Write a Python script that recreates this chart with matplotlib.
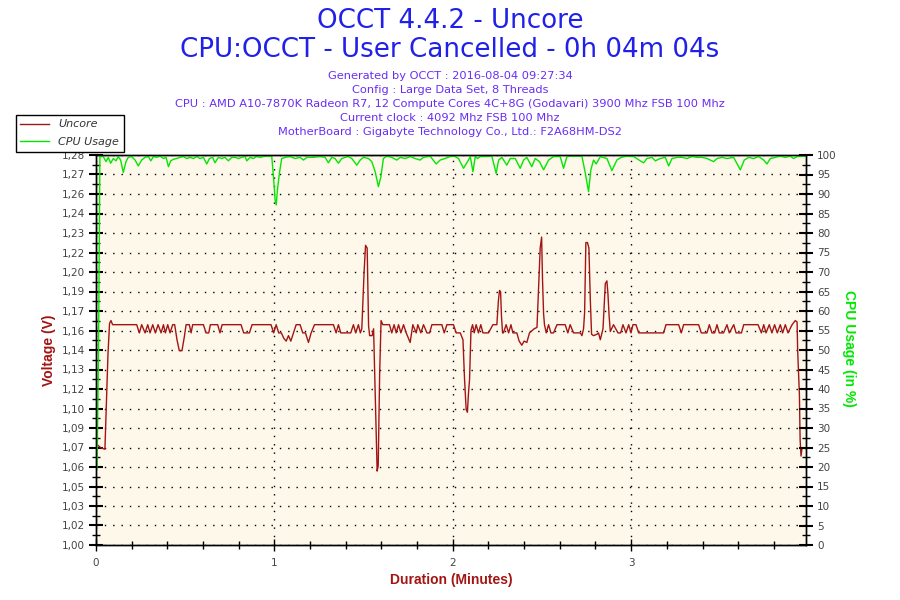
import matplotlib
matplotlib.use('Agg')
import matplotlib.pyplot as plt
import numpy as np

# Uncore voltage (V) - polyline vertices, time in minutes
uncore_t = [0.000, 0.028, 0.050, 0.059, 0.067, 0.076, 0.084, 0.093, 0.228, 0.243,
            0.256, 0.275, 0.290, 0.303, 0.318, 0.333, 0.348, 0.365, 0.378, 0.389,
            0.402, 0.415, 0.430, 0.441, 0.454, 0.467, 0.482, 0.495, 0.505, 0.523,
            0.533, 0.542, 0.602, 0.617, 0.632, 0.641, 0.682, 0.695, 0.707, 0.813,
            0.828, 0.860, 0.875, 0.981, 0.996, 1.010, 1.024, 1.039, 1.053, 1.066,
            1.079, 1.092, 1.107, 1.122, 1.144, 1.159, 1.174, 1.191, 1.206, 1.225,
            1.331, 1.346, 1.359, 1.372, 1.428, 1.443, 1.456, 1.471, 1.482, 1.490,
            1.503, 1.511, 1.520, 1.528, 1.534, 1.548, 1.556, 1.565, 1.576, 1.582,
            1.590, 1.598, 1.608, 1.645, 1.658, 1.671, 1.683, 1.696, 1.709, 1.724,
            1.739, 1.761, 1.776, 1.795, 1.804, 1.821, 1.836, 1.855, 1.870, 1.883,
            1.939, 1.952, 1.967, 2.004, 2.019, 2.042, 2.057, 2.066, 2.075, 2.082,
            2.088, 2.094, 2.102, 2.111, 2.120, 2.131, 2.144, 2.157, 2.169, 2.200,
            2.225, 2.247, 2.256, 2.262, 2.268, 2.273, 2.279, 2.284, 2.299, 2.313,
            2.326, 2.337, 2.359, 2.372, 2.387, 2.400, 2.415, 2.430, 2.456, 2.472,
            2.483, 2.490, 2.498, 2.503, 2.509, 2.514, 2.524, 2.537, 2.550, 2.565,
            2.584, 2.630, 2.645, 2.658, 2.677, 2.715, 2.724, 2.733, 2.739, 2.746,
            2.755, 2.763, 2.771, 2.778, 2.789, 2.808, 2.817, 2.827, 2.842, 2.855,
            2.864, 2.870, 2.876, 2.883, 2.901, 2.926, 2.941, 2.954, 2.971, 2.986,
            2.999, 3.010, 3.027, 3.042, 3.182, 3.195, 3.266, 3.281, 3.294, 3.378,
            3.393, 3.425, 3.438, 3.453, 3.468, 3.481, 3.494, 3.518, 3.537, 3.550,
            3.575, 3.588, 3.618, 3.631, 3.711, 3.730, 3.743, 3.756, 3.774, 3.789,
            3.804, 3.819, 3.836, 3.849, 3.864, 3.879, 3.902, 3.920, 3.930, 3.933,
            3.943, 3.947, 3.952, 3.958, 3.980]
uncore_v = [1.074, 1.071, 1.070, 1.107, 1.139, 1.162, 1.164, 1.161, 1.161, 1.155,
            1.161, 1.155, 1.161, 1.155, 1.161, 1.155, 1.161, 1.155, 1.161, 1.155,
            1.161, 1.155, 1.161, 1.161, 1.150, 1.142, 1.142, 1.152, 1.161, 1.161,
            1.155, 1.161, 1.161, 1.155, 1.155, 1.161, 1.161, 1.155, 1.161, 1.161,
            1.155, 1.155, 1.161, 1.161, 1.155, 1.161, 1.155, 1.155, 1.151, 1.149,
            1.153, 1.149, 1.155, 1.161, 1.161, 1.155, 1.155, 1.148, 1.155, 1.161,
            1.161, 1.155, 1.161, 1.155, 1.155, 1.161, 1.155, 1.161, 1.155, 1.158,
            1.200, 1.219, 1.217, 1.160, 1.153, 1.153, 1.158, 1.110, 1.054, 1.058,
            1.125, 1.164, 1.161, 1.161, 1.155, 1.161, 1.155, 1.161, 1.155, 1.161,
            1.155, 1.148, 1.161, 1.155, 1.161, 1.155, 1.161, 1.155, 1.155, 1.161,
            1.161, 1.155, 1.161, 1.161, 1.155, 1.155, 1.150, 1.121, 1.099, 1.097,
            1.111, 1.121, 1.157, 1.161, 1.155, 1.161, 1.155, 1.161, 1.155, 1.155,
            1.161, 1.161, 1.179, 1.186, 1.185, 1.167, 1.155, 1.155, 1.161, 1.155,
            1.161, 1.155, 1.155, 1.149, 1.146, 1.149, 1.148, 1.155, 1.158, 1.159,
            1.194, 1.217, 1.225, 1.194, 1.169, 1.161, 1.155, 1.161, 1.155, 1.155,
            1.161, 1.161, 1.155, 1.161, 1.155, 1.155, 1.153, 1.158, 1.170, 1.221,
            1.221, 1.217, 1.179, 1.154, 1.153, 1.154, 1.155, 1.150, 1.158, 1.191,
            1.193, 1.183, 1.168, 1.156, 1.161, 1.155, 1.155, 1.161, 1.155, 1.161,
            1.155, 1.161, 1.161, 1.155, 1.155, 1.161, 1.161, 1.155, 1.161, 1.161,
            1.155, 1.155, 1.161, 1.155, 1.155, 1.161, 1.155, 1.155, 1.161, 1.155,
            1.161, 1.155, 1.155, 1.161, 1.161, 1.155, 1.161, 1.155, 1.161, 1.155,
            1.161, 1.155, 1.161, 1.155, 1.161, 1.155, 1.161, 1.164, 1.163, 1.143,
            1.110, 1.077, 1.065, 1.071, 1.071]

# CPU usage (%) vertices
cpu_t = [0.006, 0.014, 0.020, 0.022, 0.041, 0.056, 0.069, 0.082, 0.097, 0.112,
         0.125, 0.138, 0.153, 0.168, 0.181, 0.200, 0.219, 0.237, 0.256, 0.275,
         0.294, 0.307, 0.322, 0.340, 0.359, 0.378, 0.393, 0.406, 0.419, 0.434,
         0.452, 0.471, 0.490, 0.509, 0.527, 0.546, 0.565, 0.583, 0.602, 0.621,
         0.636, 0.654, 0.667, 0.686, 0.705, 0.723, 0.742, 0.761, 0.780, 0.798,
         0.817, 0.836, 0.845, 0.864, 0.882, 0.901, 0.920, 0.938, 0.957, 0.985,
         0.995, 1.004, 1.010, 1.017, 1.028, 1.041, 1.060, 1.088, 1.116, 1.144,
         1.163, 1.182, 1.219, 1.256, 1.284, 1.303, 1.322, 1.340, 1.359, 1.378,
         1.397, 1.415, 1.434, 1.462, 1.481, 1.499, 1.527, 1.546, 1.565, 1.583,
         1.597, 1.611, 1.630, 1.658, 1.686, 1.705, 1.733, 1.761, 1.789, 1.817,
         1.836, 1.873, 1.907, 1.929, 1.957, 1.985, 2.008, 2.032, 2.060, 2.083,
         2.098, 2.113, 2.126, 2.139, 2.154, 2.191, 2.219, 2.243, 2.257, 2.275,
         2.303, 2.322, 2.350, 2.378, 2.397, 2.415, 2.443, 2.462, 2.486, 2.509,
         2.537, 2.565, 2.602, 2.621, 2.640, 2.668, 2.724, 2.743, 2.761, 2.774,
         2.789, 2.804, 2.827, 2.864, 2.892, 2.920, 2.943, 2.976, 3.014, 3.051,
         3.070, 3.088, 3.117, 3.135, 3.163, 3.191, 3.210, 3.229, 3.257, 3.285,
         3.313, 3.341, 3.369, 3.397, 3.425, 3.462, 3.481, 3.509, 3.537, 3.574,
         3.612, 3.634, 3.659, 3.687, 3.715, 3.743, 3.761, 3.780, 3.808, 3.836,
         3.864, 3.892, 3.911, 3.930, 3.976]
cpu_p = [20.0, 50.0, 85.0, 99.6, 99.6, 98.3, 99.4, 97.9, 99.1, 98.5,
         99.6, 98.7, 95.5, 98.3, 99.4, 99.6, 98.7, 97.2, 98.7, 99.4,
         99.6, 98.5, 99.6, 99.4, 99.7, 99.1, 99.4, 97.0, 98.5, 98.9,
         99.1, 99.4, 99.6, 99.1, 99.4, 99.1, 99.6, 99.1, 99.4, 97.7,
         99.1, 99.4, 98.0, 99.4, 99.1, 99.4, 98.5, 99.4, 99.4, 99.1,
         99.4, 99.6, 98.5, 99.4, 99.1, 99.6, 99.4, 99.6, 99.7, 99.7,
         94.4, 88.5, 87.2, 91.0, 95.3, 99.1, 99.4, 99.6, 99.1, 99.4,
         98.7, 99.4, 99.4, 99.6, 99.4, 98.0, 99.4, 99.1, 97.9, 99.1,
         99.4, 99.6, 99.1, 97.4, 98.7, 99.4, 99.1, 98.3, 95.7, 91.9,
         94.4, 99.1, 99.7, 99.4, 98.7, 99.4, 99.1, 99.6, 99.1, 98.7,
         99.4, 99.7, 97.7, 98.7, 99.1, 99.6, 99.7, 99.1, 96.6, 98.3,
         99.6, 95.7, 99.6, 99.1, 99.6, 99.6, 99.7, 95.3, 98.7, 99.4,
         97.4, 99.1, 99.1, 96.6, 98.7, 99.4, 97.0, 99.1, 98.3, 96.2,
         98.7, 99.6, 99.6, 96.6, 99.6, 99.7, 99.7, 95.3, 90.6, 96.2,
         98.7, 97.7, 99.6, 99.1, 96.0, 98.7, 99.4, 99.7, 99.6, 98.5,
         98.0, 99.1, 99.4, 98.5, 99.1, 99.4, 97.2, 99.1, 99.4, 99.4,
         99.1, 99.6, 99.4, 99.4, 99.1, 98.3, 99.1, 99.4, 99.1, 99.4,
         96.2, 98.7, 99.4, 99.1, 99.6, 98.7, 97.7, 99.1, 99.4, 99.7,
         99.4, 99.7, 99.1, 99.6, 99.7]

volt_labels = ['1,00', '1,02', '1,03', '1,05', '1,06', '1,07', '1,09', '1,10', '1,12', '1,13',
               '1,14', '1,16', '1,17', '1,19', '1,20', '1,22', '1,23', '1,24', '1,26', '1,27', '1,28']
pct_ticks = list(range(0, 101, 5))
minute_ticks = [0, 1, 2, 3]

title1 = 'OCCT 4.4.2 - Uncore'
title2 = 'CPU:OCCT - User Cancelled - 0h 04m 04s'
info = ['Generated by OCCT : 2016-08-04 09:27:34',
        'Config : Large Data Set, 8 Threads',
        'CPU : AMD A10-7870K Radeon R7, 12 Compute Cores 4C+8G (Godavari) 3900 Mhz FSB 100 Mhz',
        'Current clock : 4092 Mhz FSB 100 Mhz',
        'MotherBoard : Gigabyte Technology Co., Ltd.: F2A68HM-DS2']

red = '#a31515'
green = '#00e800'
narrow = ['Liberation Sans Narrow', 'Liberation Sans', 'DejaVu Sans']

fig = plt.figure(figsize=(9, 6), dpi=100)
ax = fig.add_axes([96 / 900, 55 / 600, 710 / 900, 390 / 600])
ax.set_facecolor('#fdf8ea')
ax2 = ax.twinx()

l1, = ax.plot(uncore_t, uncore_v, color=red, lw=1.0, label='Uncore')
l2, = ax2.plot(cpu_t, cpu_p, color=green, lw=1.0, label='CPU Usage')

ax.set_xlim(0, 3.98)
ax.set_ylim(1.0, 1.285)
ax2.set_ylim(0, 100)

vt = np.linspace(1.0, 1.285, 21)
ax.set_yticks(vt)
ax.set_yticklabels(volt_labels)
ax.set_yticks(vt[:-1] + (vt[1] - vt[0]) / 2, minor=True)
ax2.set_yticks(pct_ticks)
ax2.set_yticks([p + 2.5 for p in pct_ticks[:-1]], minor=True)
ax.set_xticks(minute_ticks)
ax.set_xticks(np.arange(0, 3.99, 0.2), minor=True)

ax.grid(True, which='major', color='black', linestyle=(0, (1, 5)), linewidth=1.0)

for a in (ax, ax2):
    for s in a.spines.values():
        s.set_color('black')
        s.set_linewidth(1.0)
    a.tick_params(which='major', direction='inout', length=10, width=1.5,
                  labelsize=7.5, labelcolor='#444444', pad=3)
    a.tick_params(which='minor', direction='inout', length=6, width=1.0)
ax.tick_params(axis='x', which='major', length=8, width=1.0, pad=5)
ax.tick_params(axis='x', which='minor', length=6, width=1.0)

ax.set_ylabel('Voltage (V)', color=red, fontweight='bold', fontsize=10, family=narrow)
ax.yaxis.set_label_coords(-0.056, 0.5)
ax2.set_ylabel('CPU Usage (in %)', color=green, fontweight='bold', fontsize=10,
               family=narrow, rotation=270)
ax2.yaxis.set_label_coords(1.071, 0.505)
ax.set_xlabel('Duration (Minutes)', color=red, fontweight='bold', fontsize=10, family=narrow)
ax.xaxis.set_label_coords(0.5, -0.072)

fig.text(0.5, 1 - 21 / 600, title1, ha='center', va='center', fontsize=18.8, color='#2020e8')
fig.text(0.5, 1 - 50 / 600, title2, ha='center', va='center', fontsize=18.8, color='#2020e8')
for i, line in enumerate(info):
    fig.text(0.5, 1 - (76 + 14 * i) / 600, line, ha='center', va='center',
             fontsize=8.2, color='#6a2cf5')

leg = fig.legend([l1, l2], ['Uncore', 'CPU Usage'], loc='upper left',
                 bbox_to_anchor=(16 / 900, 1 - 115 / 600), borderaxespad=0,
                 fancybox=False, framealpha=1, edgecolor='black', handlelength=2.6,
                 prop={'style': 'italic', 'size': 8}, borderpad=0.4, labelspacing=0.7)
leg.get_frame().set_linewidth(1.0)
for t in leg.get_texts():
    t.set_color('#333333')

fig.savefig('out.png', dpi=100)
